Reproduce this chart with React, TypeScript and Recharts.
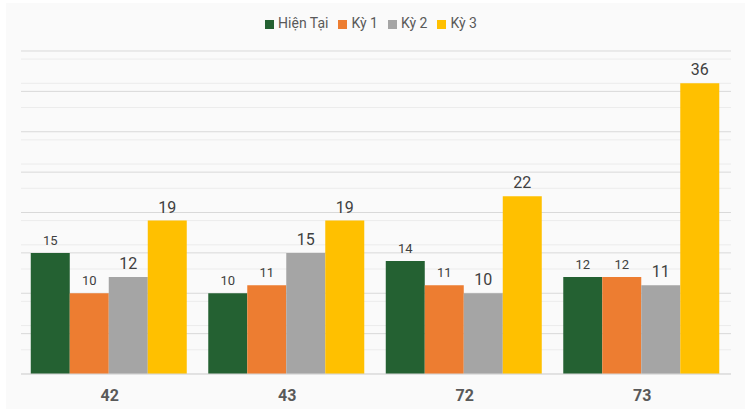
import { BarChart, Bar, XAxis, YAxis, CartesianGrid, Legend, LabelList } from "recharts"

// ─── Data ──────────────────────────────────────────────────────────────────────

const categories = ["42", "43", "72", "73"]
const hienTai = [15, 10, 14, 12]
const ky1 = [10, 11, 11, 12]
const ky2 = [12, 15, 10, 11]
const ky3 = [19, 19, 22, 36]

const minorTicks = Array.from({ length: 41 }, (_, i) => i).filter(v => v % 5 !== 0)
const majorTicks = [0, 5, 10, 15, 20, 25, 30, 35, 40]

const data = categories.map((c, i) => ({
  name: c,
  hienTai: hienTai[i],
  ky1: ky1[i],
  ky2: ky2[i],
  ky3: ky3[i],
}))

const series = [
  { key: "hienTai", name: "Hiện Tại", color: "#246132", labelSize: 13 },
  { key: "ky1", name: "Kỳ 1", color: "#ed7d31", labelSize: 13 },
  { key: "ky2", name: "Kỳ 2", color: "#a5a5a5", labelSize: 16 },
  { key: "ky3", name: "Kỳ 3", color: "#ffc000", labelSize: 16 },
]

export default function App() {
  return (
    <div style={{ position: "absolute", left: 0, top: 0, width: 748, height: 409, background: "#fff", fontFamily: "Roboto, sans-serif" }}>
      <div style={{ position: "absolute", left: 6, top: 3, width: 739, height: 406, background: "#fafafa" }} />
      <div style={{ position: "absolute", left: 0, top: 0 }}>
        <BarChart
          width={748}
          height={409}
          data={data}
          margin={{ top: 33, right: 17, left: 21, bottom: 5 }}
          barCategoryGap="5.5%"
          barGap={0}
        >
          <CartesianGrid vertical={false} horizontalValues={minorTicks} stroke="#ececec" strokeWidth={1} />
          <CartesianGrid vertical={false} horizontalValues={majorTicks} stroke="#d9d9d9" strokeWidth={1} />
          <XAxis
            dataKey="name"
            height={30}
            axisLine={{ stroke: "#d9d9d9" }}
            tickLine={false}
            tickMargin={10}
            tick={{ fill: "#595959", fontSize: 16, fontWeight: 700 }}
          />
          <YAxis hide domain={[0, 40]} ticks={majorTicks} />
          <Legend
            verticalAlign="top"
            align="center"
            iconType="square"
            iconSize={9}
            wrapperStyle={{ top: 14, fontSize: 14, lineHeight: "18px" }}
            formatter={(value) => <span style={{ color: "#595959" }}>{value}</span>}
          />
          {series.map(s => (
            <Bar key={s.key} dataKey={s.key} name={s.name} fill={s.color} isAnimationActive={false}>
              <LabelList
                dataKey={s.key}
                position="top"
                offset={8}
                style={{ fill: "#404040", fontSize: s.labelSize }}
              />
            </Bar>
          ))}
        </BarChart>
      </div>
    </div>
  )
}
